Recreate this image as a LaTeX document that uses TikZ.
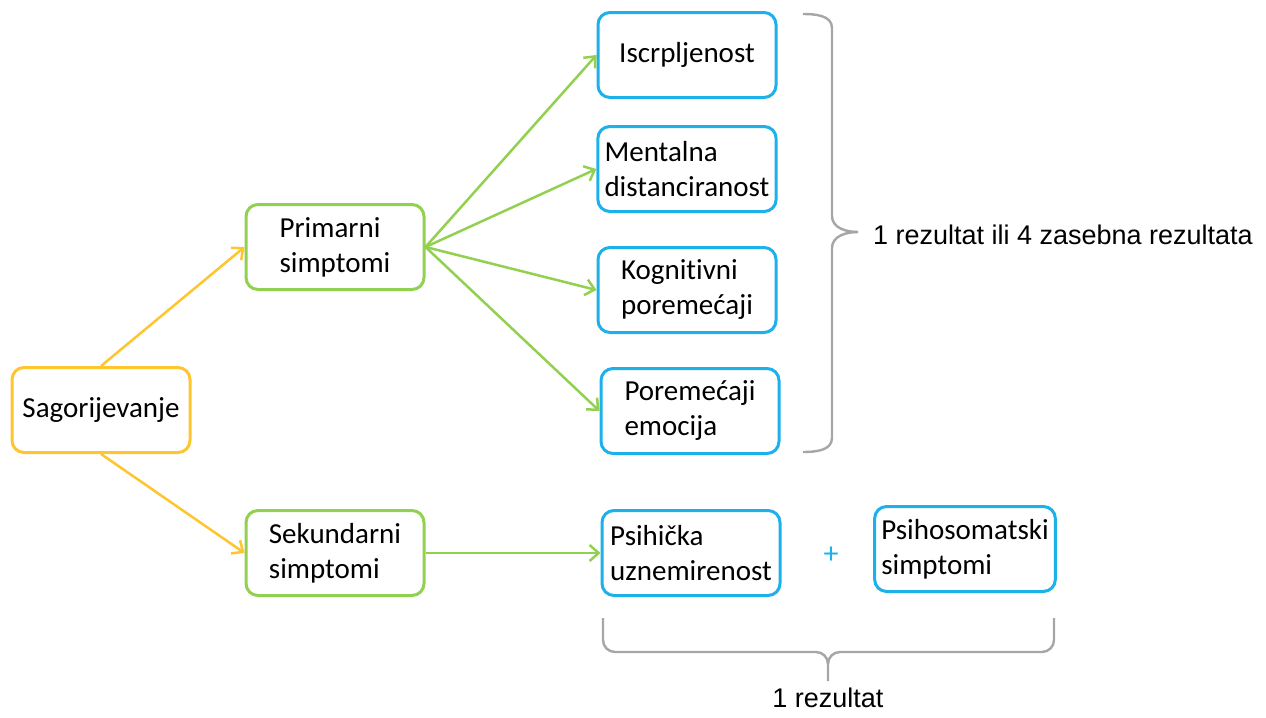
\documentclass[tikz,border=0pt]{standalone}
\usepackage{fontspec}
\setmainfont{Carlito}[Ligatures=NoCommon]
\newfontfamily\arialfont{Liberation Sans}
\usetikzlibrary{positioning,arrows.meta}

\definecolor{zuta}{HTML}{FFC52F}
\definecolor{zelena}{HTML}{92D050}
\definecolor{plava}{HTML}{1DB1EC}
\definecolor{siva}{HTML}{A6A6A6}

\tikzset{
  kutija/.style={draw=#1,line width=1.5pt,rounded corners=6pt,fill=white,
    minimum width=89pt,minimum height=42.5pt,align=left,
    font=\fontsize{14.5}{17.5}\selectfont},
  strelica/.style={->,line width=1.25pt,draw=#1},
  zagrada/.style={draw=siva,line width=1.2pt},
  oznaka/.style={font=\arialfont\fontsize{13.5}{15}\selectfont},
  >={Straight Barb[length=4.5pt,width=8pt]}
}

\begin{document}
\begin{tikzpicture}[x=0.5pt,y=-0.5pt]
        \useasboundingbox (0,0) rectangle (1266,718);
        % 左の列
        \node[kutija=zuta] (sag) at (101,410) {Sagorijevanje};
        \node[kutija=zelena] (prim) at (335,247) {Primarni\\simptomi};
        \node[kutija=zelena] (sek) at (335,553) {Sekundarni\\simptomi};
        % 右の列
        \node[kutija=plava] (iscr) at (687,55) {Iscrpljenost};
        \node[kutija=plava] (ment) at (687,169) {Mentalna\\distanciranost};
        \node[kutija=plava] (kogn) at (687,290) {Kognitivni\\poremećaji};
        \node[kutija=plava] (emoc) at (690,411) {Poremećaji\\emocija};
        \node[kutija=plava] (psih) at (691,553) {Psihička\\uznemirenost};
        \node[kutija=plava] (soma) at (965,549) {Psihosomatski\\simptomi};
        \node[text=plava,font=\fontsize{15}{15}\selectfont] (plus) at (831,555) {+};
        % ラベル
        \coordinate (vrh) at (858,232);
        \coordinate (vrh2) at (828,681);
        \node[oznaka,anchor=west] (rez4) at (866,235) {1 rezultat ili 4 zasebna rezultata};
        \node[oznaka] (rez1) at (828,698) {1 rezultat};
        % 矢印
        \draw[strelica=zuta] (sag.north) -- (prim.west);
        \draw[strelica=zuta] (sag.south) -- (sek.west);
        \draw[strelica=zelena] (prim.east) -- (iscr.west);
        \draw[strelica=zelena] (prim.east) -- (ment.west);
        \draw[strelica=zelena] (prim.east) -- (kogn.west);
        \draw[strelica=zelena] (prim.east) -- (emoc.west);
        \draw[strelica=zelena] (sek.east) -- (psih.west);
        % 括弧
        \draw[zagrada] (803,14) to[out=0,in=90] (832,28) -- (832,216) to[out=-90,in=180] (vrh);
        \draw[zagrada] (803,452) to[out=0,in=-90] (832,438) -- (832,248) to[out=90,in=180] (vrh);
        \draw[zagrada] (603,618) -- (603,640) to[out=-90,in=180] (615,652) -- (816,652) to[out=0,in=90] (828,664) -- (vrh2);
        \draw[zagrada] (1054,618) -- (1054,640) to[out=-90,in=0] (1042,652) -- (840,652) to[out=180,in=90] (828,664);
    \end{tikzpicture}
\end{document}
